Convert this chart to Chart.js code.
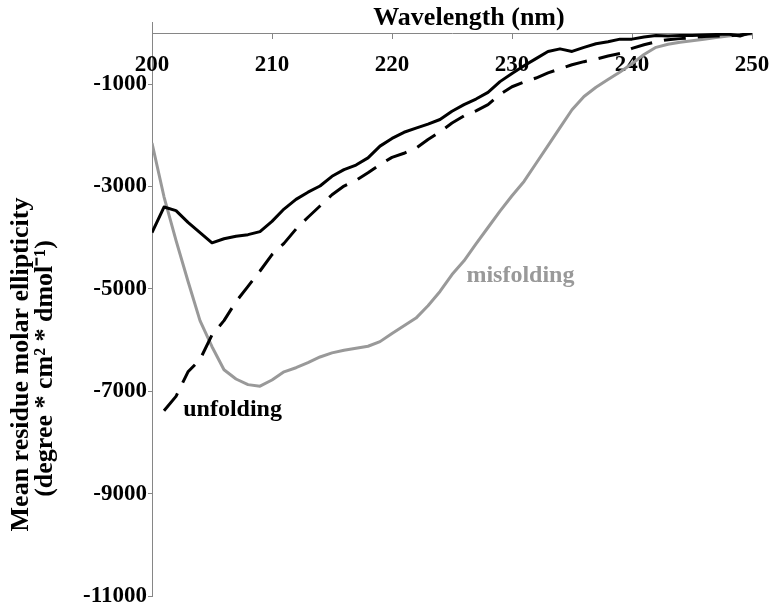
<!DOCTYPE html>
<html lang="en">
<head>
<meta charset="UTF-8">
<title>CD spectra</title>
<script src="https://cdn.jsdelivr.net/npm/chart.js"></script>
<style>
  body { margin: 0; background: #fff; }
  canvas { display: block; }
</style>
</head>
<body>
<canvas id="cdChart" width="772" height="609"></canvas>
<script>
// wavelength (nm), one point per nm
const wavelengths = [200, 201, 202, 203, 204, 205, 206, 207, 208, 209,
  210, 211, 212, 213, 214, 215, 216, 217, 218, 219,
  220, 221, 222, 223, 224, 225, 226, 227, 228, 229,
  230, 231, 232, 233, 234, 235, 236, 237, 238, 239,
  240, 241, 242, 243, 244, 245, 246, 247, 248, 249, 250];

// black solid line (no label in the figure)
const nativeValues = [-3900, -3400, -3470, -3700, -3900, -4100, -4020, -3970, -3940, -3880,
  -3680, -3440, -3250, -3110, -2990, -2800, -2670, -2580, -2440, -2210,
  -2060, -1940, -1860, -1780, -1690, -1530, -1400, -1290, -1160, -950,
  -790, -640, -500, -360, -310, -360, -280, -210, -170, -120,
  -120, -80, -50, -60, -50, -50, -40, -30, -20, -60, 20];

// black dashed line
const unfoldingValues = [null, -7380, -7100, -6620, -6380, -5900, -5620, -5250, -4950, -4650,
  -4330, -4110, -3830, -3600, -3380, -3160, -2990, -2880, -2730, -2570,
  -2430, -2350, -2250, -2080, -1930, -1760, -1620, -1520, -1400, -1200,
  -1050, -960, -880, -780, -700, -620, -560, -510, -450, -400,
  -300, -230, -170, -130, -110, -90, -70, -60, -50, -40, 0];

// grey line
const misfoldingValues = [-2150, -3200, -4050, -4850, -5620, -6130, -6580, -6760, -6870, -6900,
  -6780, -6620, -6540, -6440, -6330, -6250, -6200, -6160, -6120, -6030,
  -5870, -5720, -5570, -5330, -5050, -4720, -4450, -4120, -3800, -3480,
  -3180, -2900, -2550, -2200, -1850, -1500, -1240, -1060, -910, -760,
  -600, -420, -280, -220, -180, -150, -120, -90, -60, -40, -20];

const xTickValues = [200, 210, 220, 230, 240, 250];
const yTickValues = [-11000, -9000, -7000, -5000, -3000, -1000];

const axisColor = '#868686';
const greyLine = '#999999';
const serif = '"Liberation Serif", "Times New Roman", serif';

function points(values) {
  return wavelengths.map((w, i) => ({ x: w, y: values[i] }));
}

// tick labels under the top axis, titles and curve labels
const textPlugin = {
  id: 'textPlugin',
  beforeDatasetsDraw(chart) {
    const { ctx, chartArea, scales: { x } } = chart;
    ctx.save();
    // y axis runs a little above the x axis line
    ctx.strokeStyle = axisColor;
    ctx.lineWidth = 1;
    ctx.beginPath();
    ctx.moveTo(Math.round(chartArea.left) + 0.5, chartArea.top - 11);
    ctx.lineTo(Math.round(chartArea.left) + 0.5, chartArea.top);
    ctx.stroke();

    ctx.font = 'bold 23px ' + serif;
    ctx.fillStyle = '#000';
    ctx.textAlign = 'center';
    ctx.textBaseline = 'alphabetic';
    xTickValues.forEach(v => {
      ctx.fillText(String(v), x.getPixelForValue(v), chartArea.top + 38);
    });
    ctx.restore();
  },
  afterDatasetsDraw(chart) {
    const { ctx, scales: { x, y } } = chart;
    ctx.save();
    ctx.font = 'bold 24px ' + serif;
    ctx.textAlign = 'left';
    ctx.textBaseline = 'alphabetic';
    ctx.fillStyle = '#000';
    ctx.fillText('unfolding', x.getPixelForValue(202.6), y.getPixelForValue(-7490));
    ctx.fillStyle = greyLine;
    ctx.fillText('misfolding', x.getPixelForValue(226.2), y.getPixelForValue(-4860));
    ctx.restore();
  },
  afterDraw(chart) {
    const { ctx, chartArea } = chart;
    ctx.save();
    ctx.fillStyle = '#000';
    ctx.font = 'bold 26px ' + serif;
    ctx.textAlign = 'center';
    ctx.textBaseline = 'alphabetic';
    ctx.fillText('Wavelength (nm)', (chartArea.left + chartArea.right) / 2 + 17, chartArea.top - 8);

    const midY = (chartArea.top + chartArea.bottom) / 2;
    ctx.translate(27.5, midY + 50);
    ctx.rotate(-Math.PI / 2);
    ctx.fillText('Mean residue molar ellipticity', 0, 0);
    ctx.fillText('(degree * cm\u00B2 * dmol\u207B\u00B9)', -4, 24);
    ctx.restore();
  }
};

const ctx = document.getElementById('cdChart').getContext('2d');
const cdChart = new Chart(ctx, {
  type: 'line',
  data: {
    datasets: [
      {
        label: 'native',
        data: points(nativeValues),
        borderColor: '#000',
        borderWidth: 3,
        order: 1
      },
      {
        label: 'unfolding',
        data: points(unfoldingValues),
        borderColor: '#000',
        borderWidth: 3,
        borderDash: [22, 12],
        order: 2
      },
      {
        label: 'misfolding',
        data: points(misfoldingValues),
        borderColor: greyLine,
        borderWidth: 3,
        order: 3
      }
    ]
  },
  options: {
    responsive: false,
    animation: false,
    layout: { padding: { left: 0, top: 0, right: 20, bottom: 13 } },
    elements: {
      point: { radius: 0 },
      line: { tension: 0, fill: false, borderJoinStyle: 'round' }
    },
    plugins: {
      legend: { display: false },
      tooltip: { enabled: false }
    },
    scales: {
      x: {
        type: 'linear',
        position: 'top',
        min: 200,
        max: 250,
        afterBuildTicks: scale => { scale.ticks = xTickValues.map(v => ({ value: v })); },
        afterFit: scale => { scale.height = 33; },
        ticks: { display: false },
        border: { display: true, color: axisColor, width: 1 },
        grid: { drawOnChartArea: false, drawTicks: true, tickLength: -6, color: axisColor }
      },
      y: {
        type: 'linear',
        min: -11000,
        max: 0,
        afterBuildTicks: scale => { scale.ticks = yTickValues.map(v => ({ value: v })); },
        afterFit: scale => { scale.width = 152; },
        ticks: {
          color: '#000',
          padding: 1,
          callback: value => String(value),
          font: { family: serif, size: 23, weight: 'bold', lineHeight: 1 }
        },
        border: { display: true, color: axisColor, width: 1 },
        grid: { drawOnChartArea: false, drawTicks: true, tickLength: 4, color: axisColor }
      }
    }
  },
  plugins: [textPlugin]
});
</script>
</body>
</html>
